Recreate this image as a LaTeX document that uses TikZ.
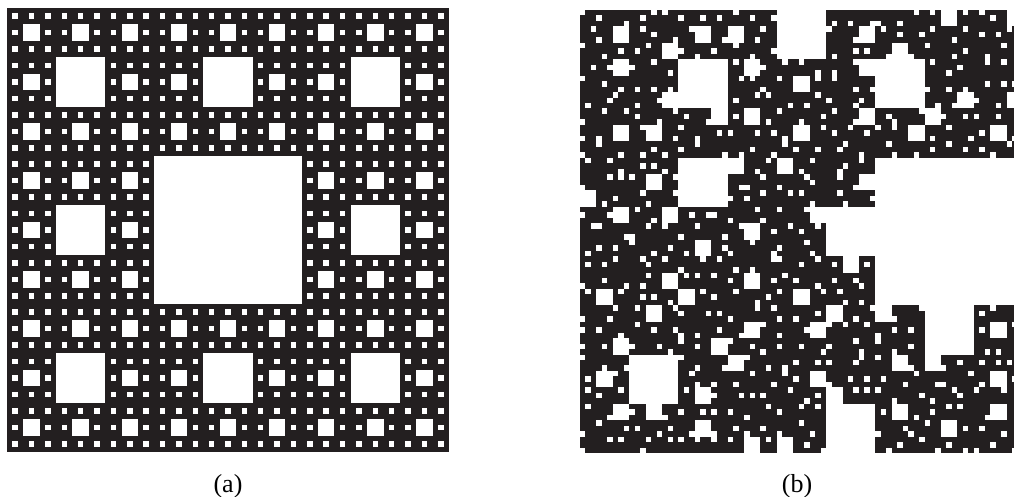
\documentclass[tikz,border=0pt]{standalone}
\usepackage{fontspec}
\setmainfont{Liberation Serif}
\definecolor{ink}{RGB}{35,31,32}
\tikzset{
  carpetbg/.style={fill=ink},
  hole/.style={fill=white},
  caption/.style={font=\fontsize{26}{30}\selectfont, anchor=base, inner sep=0pt}
}
\begin{document}
\begin{tikzpicture}[x=1pt,y=-1pt]
\useasboundingbox (0,0) rectangle (1014,497);
\fill[white] (0,0) rectangle (1014,497);
\begin{scope}
\clip (0,0) rectangle (1014,497);
% ---------- (a) regular Sierpinski carpet ----------
\begin{scope}[shift={(7,8)}, x=5.4568pt, y=-5.4815pt]
  \fill[carpetbg] (0,0) rectangle (81,81);
  \fill[hole] (27,27) rectangle +(27,27);
  \foreach \i in {0,1,2}{\foreach \j in {0,1,2}{
    \fill[hole] ({9*(3*\i+1)},{9*(3*\j+1)}) rectangle +(9,9);}}
  \foreach \i in {0,...,8}{\foreach \j in {0,...,8}{
    \fill[hole] ({3*(3*\i+1)},{3*(3*\j+1)}) rectangle +(3,3);}}
  \foreach \i in {0,...,26}{\foreach \j in {0,...,26}{
    \fill[hole] ({3*\i+1},{3*\j+1}) rectangle +(1,1);}}
\end{scope}
% ---------- (b) random carpet ----------
\pgfmathsetseed{7}
\begin{scope}[shift={(580,10)}, x=5.469pt, y=-5.469pt]
  \fill[carpetbg] (0,0) rectangle (81,81);
  % level 1
  \fill[hole] (54,27) rectangle +(27,27);
  % level 2
  \foreach \i/\j/\p/\q in {0/0/2/1, 1/0/1/0, 2/0/0/1, 0/1/2/0, 1/1/2/1, 0/2/1/1, 1/2/2/2, 2/2/1/0}{
    \fill[hole] ({27*\i+9*\p},{27*\j+9*\q}) rectangle +(9,9);}
  % level 3
  \foreach \i/\j/\p/\q in {
    0/0/2/1, 1/0/2/2, 2/0/1/1, 3/0/0/1, 5/0/2/1, 6/0/1/2, 7/0/1/0, 8/0/2/0,
    0/1/2/0, 1/1/2/2, 3/1/1/0, 4/1/1/1, 5/1/2/0, 7/1/2/2, 8/1/2/2,
    0/2/2/1, 1/2/1/1, 2/2/2/0, 3/2/1/0, 4/2/1/1, 5/2/2/0, 6/2/2/1, 7/2/0/0, 8/2/1/1,
    0/3/0/2, 1/3/1/1, 3/3/0/0, 4/3/0/0, 5/3/2/1,
    0/4/2/0, 1/4/2/0, 2/4/1/2, 3/4/1/1, 4/4/2/0,
    0/5/1/2, 1/5/2/1, 2/5/0/2, 3/5/1/1, 4/5/1/2, 5/5/1/0,
    0/6/2/2, 1/6/1/0, 2/6/2/2, 3/6/1/1, 4/6/2/1, 5/6/0/0, 6/6/0/0, 8/6/1/1,
    0/7/1/1, 2/7/1/2, 3/7/0/0, 4/7/2/1, 5/7/0/2, 6/7/1/0, 7/7/0/0, 8/7/1/1,
    0/8/2/0, 1/8/1/0, 2/8/1/1, 3/8/1/2, 4/8/0/2, 6/8/1/0, 7/8/1/1, 8/8/1/0}{
    \fill[hole] ({9*\i+3*\p},{9*\j+3*\q}) rectangle +(3,3);}
  % level 4
  \foreach \i in {0,...,26}{\foreach \j in {0,...,26}{
    \pgfmathrandominteger{\p}{0}{2}\pgfmathrandominteger{\q}{0}{2}
    \fill[hole] ({3*\i+\p},{3*\j+\q}) rectangle +(1,1);}}
\end{scope}
\end{scope}
\node[caption] (la) at (228,492) {(a)};
\node[caption] (lb) at (797,492) {(b)};
\end{tikzpicture}
\end{document}
